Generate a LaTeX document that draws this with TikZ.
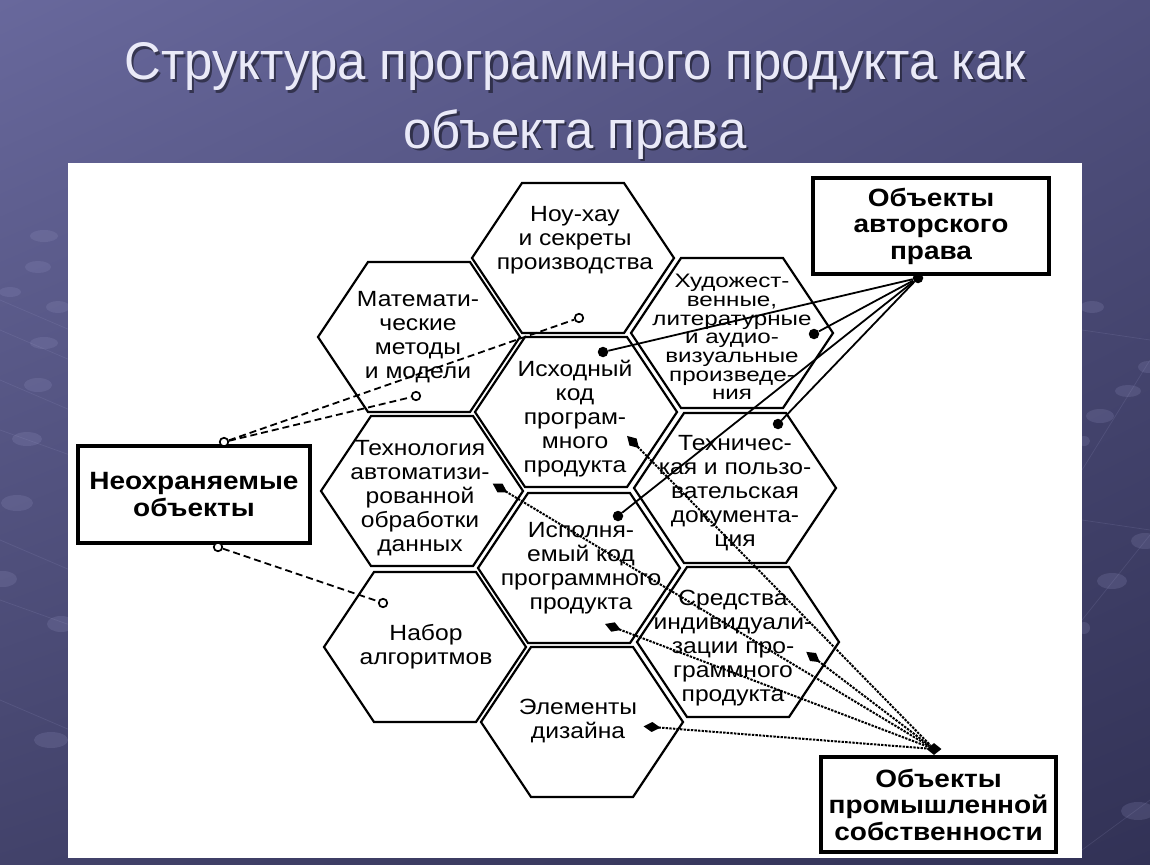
\documentclass[tikz,border=0pt]{standalone}
\usepackage{fontspec}
\setmainfont{Liberation Sans}
\newfontfamily\hexfont[FakeStretch=1.12]{Liberation Sans}
\newfontfamily\hudfam[FakeStretch=1.24]{Liberation Sans}
\newfontfamily\titlefont[FakeStretch=0.96]{Liberation Sans}
\newcommand\hudfont{\hudfam\fontsize{19.5}{18.7}\selectfont\setlength{\lineskiplimit}{-100pt}}
\usetikzlibrary{arrows.meta,shapes.geometric,shadings}
\definecolor{bgUL}{RGB}{104,104,156}
\definecolor{bgUR}{RGB}{80,80,126}
\definecolor{bgLL}{RGB}{66,66,106}
\definecolor{bgLR}{RGB}{50,50,86}
\definecolor{titlecol}{RGB}{234,234,248}
\definecolor{bubble}{RGB}{150,150,195}
\begin{document}
\begin{tikzpicture}[x=1pt,y=-1pt,
  hexline/.style={line width=2.2pt, line join=miter},
  hextext/.style={font=\hexfont\fontsize{22}{24}\selectfont, align=center, inner sep=0pt},
  hexsmall/.style={font=\hudfont, align=center, inner sep=0pt},
  boxstyle/.style={draw, line width=3.5pt, fill=white, align=center, inner sep=0pt,
    font=\hexfont\bfseries\fontsize{25}{26.5}\selectfont},
  dashline/.style={line width=1.8pt, dash pattern=on 7pt off 4pt},
  dotline/.style={line width=2pt, dash pattern=on 2.4pt off 1.2pt},
  solidline/.style={line width=1.8pt},
  opendot/.style={circle, draw, line width=1.7pt, fill=white, inner sep=0pt, minimum size=8.5pt},
  filldot/.style={circle, fill=black, inner sep=0pt, minimum size=10.5pt},
  diamondtip/.style={{Diamond[length=17pt,width=10pt]}-, shorten <=-8.5pt},
  bub/.style={fill=bubble, opacity=0.2},
  bubline/.style={draw=bubble, opacity=0.18, line width=0.7pt},
  hexcell/.pic={\draw[hexline] (-101,0) -- (-51,-75) -- (51,-75) -- (101,0) -- (51,75) -- (-51,75) -- cycle;}
]
\useasboundingbox (0,0) rectangle (1150,864);
% slide background
\shade[upper left=bgUL, upper right=bgUR, lower left=bgLL, lower right=bgLR] (0,0) rectangle (1150,864);
% decorative discs and threads of the slide template
\draw[bubline] (0,300) -- (70,330);
\draw[bubline] (0,330) -- (70,360);
\draw[bubline] (0,380) -- (70,410);
\draw[bubline] (0,430) -- (70,455);
\draw[bubline] (0,540) -- (70,570);
\draw[bubline] (0,600) -- (70,625);
\draw[bubline] (0,700) -- (70,730);
\draw[bubline] (1082,470) -- (1150,360);
\draw[bubline] (1082,620) -- (1150,535);
\draw[bubline] (1082,850) -- (1150,800);
\draw[bubline] (1082,330) -- (1150,340);
\draw[bubline] (1082,520) -- (1150,530);
\fill[bub] (44,236) ellipse (14 and 6);
\fill[bub] (38,267) ellipse (13 and 6);
\fill[bub] (10,292) ellipse (11 and 5);
\fill[bub] (58,307) ellipse (12 and 6);
\fill[bub] (44,343) ellipse (14 and 6);
\fill[bub] (38,385) ellipse (14 and 7);
\fill[bub] (27,439) ellipse (15 and 7);
\fill[bub] (17,503) ellipse (16 and 8);
\fill[bub] (3,579) ellipse (14 and 8);
\fill[bub] (61,624) ellipse (14 and 8);
\fill[bub] (51,740) ellipse (17 and 8);
\fill[bub] (1092,307) ellipse (12 and 6);
\fill[bub] (1148,367) ellipse (10 and 6);
\fill[bub] (1128,391) ellipse (13 and 6);
\fill[bub] (1100,416) ellipse (14 and 7);
\fill[bub] (1084,441) ellipse (6 and 5);
\fill[bub] (1145,541) ellipse (14 and 8);
\fill[bub] (1112,581) ellipse (15 and 8);
\fill[bub] (1084,628) ellipse (6 and 6);
\fill[bub] (1138,811) ellipse (17 and 9);
% title
\node[font=\titlefont\fontsize{53}{60}\selectfont, text=black, opacity=0.45, anchor=base] (t1s) at (577.5,82.5) {Структура программного продукта как};
\node[font=\titlefont\fontsize{53}{60}\selectfont, text=titlecol, anchor=base] (t1) at (575,80) {Структура программного продукта как};
\node[font=\titlefont\fontsize{53}{60}\selectfont, text=black, opacity=0.45, anchor=base] (t2s) at (577.5,150.5) {объекта права};
\node[font=\titlefont\fontsize{53}{60}\selectfont, text=titlecol, anchor=base] (t2) at (575,148) {объекта права};
% white panel
\fill[white] (68,163) rectangle (1082,858);
% hexagons
\pic at (573,258) {hexcell};
\pic at (419,337) {hexcell};
\pic at (732,333) {hexcell};
\pic at (576,412) {hexcell};
\pic at (422,491) {hexcell};
\pic at (735,488) {hexcell};
\pic at (579,568) {hexcell};
\pic at (425,647) {hexcell};
\pic at (738,642) {hexcell};
\pic at (582,722) {hexcell};
% hexagon texts
\node[hextext] (hNou) at (575,240) {Ноу-хау\\и секреты\\производства};
\node[hextext] (hMath) at (418,337) {Математи-\\ческие\\методы\\и модели};
\node[hexsmall] (hHud) at (732,337) {Художест-\\венные,\\литературные\\и аудио-\\визуальные\\произведе-\\ния};
\node[hextext] (hIsh) at (575,419) {Исходный\\код\\програм-\\много\\продукта};
\node[hextext] (hTech) at (420,498) {Технология\\автоматизи-\\рованной\\обработки\\данных};
\node[hextext] (hTeh) at (735,493) {Техничес-\\кая и пользо-\\вательская\\документа-\\ция};
\node[hextext] (hIsp) at (581,568) {Исполня-\\емый код\\программного\\продукта};
\node[hextext] (hNab) at (426,647) {Набор\\алгоритмов};
\node[hextext] (hSred) at (733,648) {Средства\\индивидуали-\\зации про-\\граммного\\продукта};
\node[hextext] (hEl) at (578,721) {Элементы\\дизайна};
% boxes
\node[boxstyle, minimum width=232pt, minimum height=97pt] (neo) at (194,494.5) {Неохраняемые\\объекты};
\node[boxstyle, minimum width=236pt, minimum height=96pt] (auth) at (931,226) {Объекты\\авторского\\права};
\node[boxstyle, minimum width=235pt, minimum height=95pt] (prom) at (938.5,804.5) {Объекты\\промышленной\\собственности};
% end markers
\node[opendot] (nTop) at (224,442) {};
\node[opendot] (nBot) at (218,547) {};
\node[opendot] (cMath) at (416,396) {};
\node[opendot] (cNou) at (579,318) {};
\node[opendot] (cNab) at (383,603) {};
\node[filldot] (aDot) at (918,278) {};
\node[filldot] (dIsh) at (603,352) {};
\node[filldot] (dHud) at (814,334) {};
\node[filldot] (dTeh) at (778,424) {};
\node[filldot] (dIsp) at (618,516) {};
\node[diamond, fill=black, inner sep=0pt, minimum width=15pt, minimum height=12pt] (pDot) at (934,749) {};
\coordinate (mIsh) at (633,442);
\coordinate (mTech) at (500,488);
\coordinate (mIsp) at (613,627);
\coordinate (mSred) at (813,657);
\coordinate (mEl) at (652,727);
% connectors: non-protected objects
\draw[dashline] (nTop) -- (cMath);
\draw[dashline] (nTop) -- (cNou);
\draw[dashline] (nBot) -- (cNab);
% connectors: copyright objects
\draw[solidline] (aDot) -- (dIsh);
\draw[solidline] (aDot) -- (dHud);
\draw[solidline] (aDot) -- (dTeh);
\draw[solidline] (aDot) -- (dIsp);
% connectors: industrial property
\draw[dotline, diamondtip] (mIsh) -- (pDot);
\draw[dotline, diamondtip] (mTech) -- (pDot);
\draw[dotline, diamondtip] (mIsp) -- (pDot);
\draw[dotline, diamondtip] (mSred) -- (pDot);
\draw[dotline, diamondtip] (mEl) -- (pDot);
\end{tikzpicture}
\end{document}
